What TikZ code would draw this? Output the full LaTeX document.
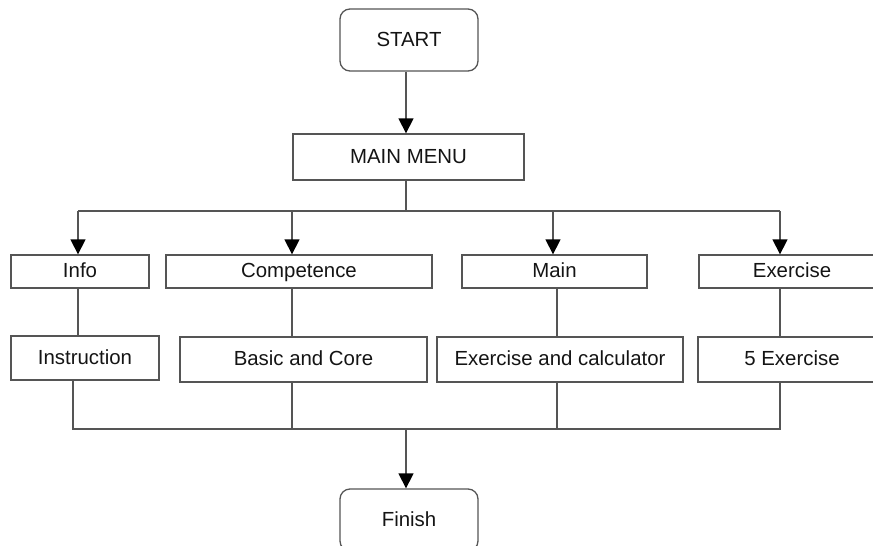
\documentclass[tikz,border=0pt]{standalone}
\usepackage{fontspec}
\setmainfont{Liberation Sans}
\usetikzlibrary{arrows.meta}
\definecolor{lc}{RGB}{85,85,85}
\definecolor{tc}{RGB}{20,20,20}
\begin{document}
\begin{tikzpicture}[x=0.5pt,y=-0.5pt,
  box/.style={draw=lc,line width=0.65pt,rectangle,inner sep=0pt,text=tc,text height=7.6pt,text depth=1.3pt,font=\fontsize{10.2pt}{12pt}\selectfont},
  rbox/.style={box,rounded corners=5pt},
  ln/.style={draw=lc,line width=0.65pt},
  arr/.style={ln,-{Triangle[length=7.5pt,width=7.5pt,fill=black,color=black]}}]
\useasboundingbox (0,0) rectangle (873,546);
\clip (0,0) rectangle (873,546);
\node[rbox,minimum width=69pt,minimum height=31pt] (start) at (409,40) {START};
\node[box,minimum width=115.5pt,minimum height=23pt] (mm) at (408.5,157) {MAIN MENU};
\node[box,minimum width=69pt,minimum height=16.5pt] (info) at (80,271.5) {Info};
\node[box,minimum width=133pt,minimum height=16.5pt] (comp) at (299,271.5) {Competence};
\node[box,minimum width=92.5pt,minimum height=16.5pt] (main) at (554.5,271.5) {Main};
\node[box,minimum width=93pt,minimum height=16.5pt] (exer) at (792,271.5) {Exercise};
\node[box,minimum width=74pt,minimum height=22pt] (instr) at (85,358) {Instruction};
\node[box,minimum width=123.5pt,minimum height=22.5pt] (basic) at (303.5,359.5) {Basic and Core};
\node[box,minimum width=123pt,minimum height=22.5pt] (excalc) at (560,359.5) {Exercise and calculator};
\node[box,minimum width=94pt,minimum height=22.5pt] (ex5) at (792,359.5) {5 Exercise};
\node[rbox,minimum width=69pt,minimum height=31pt] (finish) at (409,520) {Finish};
% top connectors
\coordinate (top) at (406,211);
\coordinate (tA) at (78,211);
\coordinate (tB) at (292,211);
\coordinate (tC) at (553,211);
\coordinate (tD) at (780,211);
\draw[arr] (start.south -| top) -- (top |- mm.north);
\draw[ln] (mm.south -| top) -- (top);
\draw[ln] (tA) -- (tD);
\draw[arr] (tA) -- (tA |- info.north);
\draw[arr] (tB) -- (tB |- comp.north);
\draw[arr] (tC) -- (tC |- main.north);
\draw[arr] (tD) -- (tD |- exer.north);
% middle connectors
\coordinate (mC) at (557,300);
\draw[ln] (info.south -| tA) -- (tA |- instr.north);
\draw[ln] (comp.south -| tB) -- (tB |- basic.north);
\draw[ln] (main.south -| mC) -- (mC |- excalc.north);
\draw[ln] (exer.south -| tD) -- (tD |- ex5.north);
% bottom connectors
\coordinate (bA) at (73,429);
\coordinate (bB) at (292,429);
\coordinate (bC) at (557,429);
\coordinate (bD) at (780,429);
\coordinate (bot) at (406,429);
\draw[ln] (instr.south -| bA) -- (bA) -- (bD) -- (bD |- ex5.south);
\draw[ln] (basic.south -| bB) -- (bB);
\draw[ln] (excalc.south -| bC) -- (bC);
\draw[arr] (bot) -- (bot |- finish.north);
\end{tikzpicture}
\end{document}
